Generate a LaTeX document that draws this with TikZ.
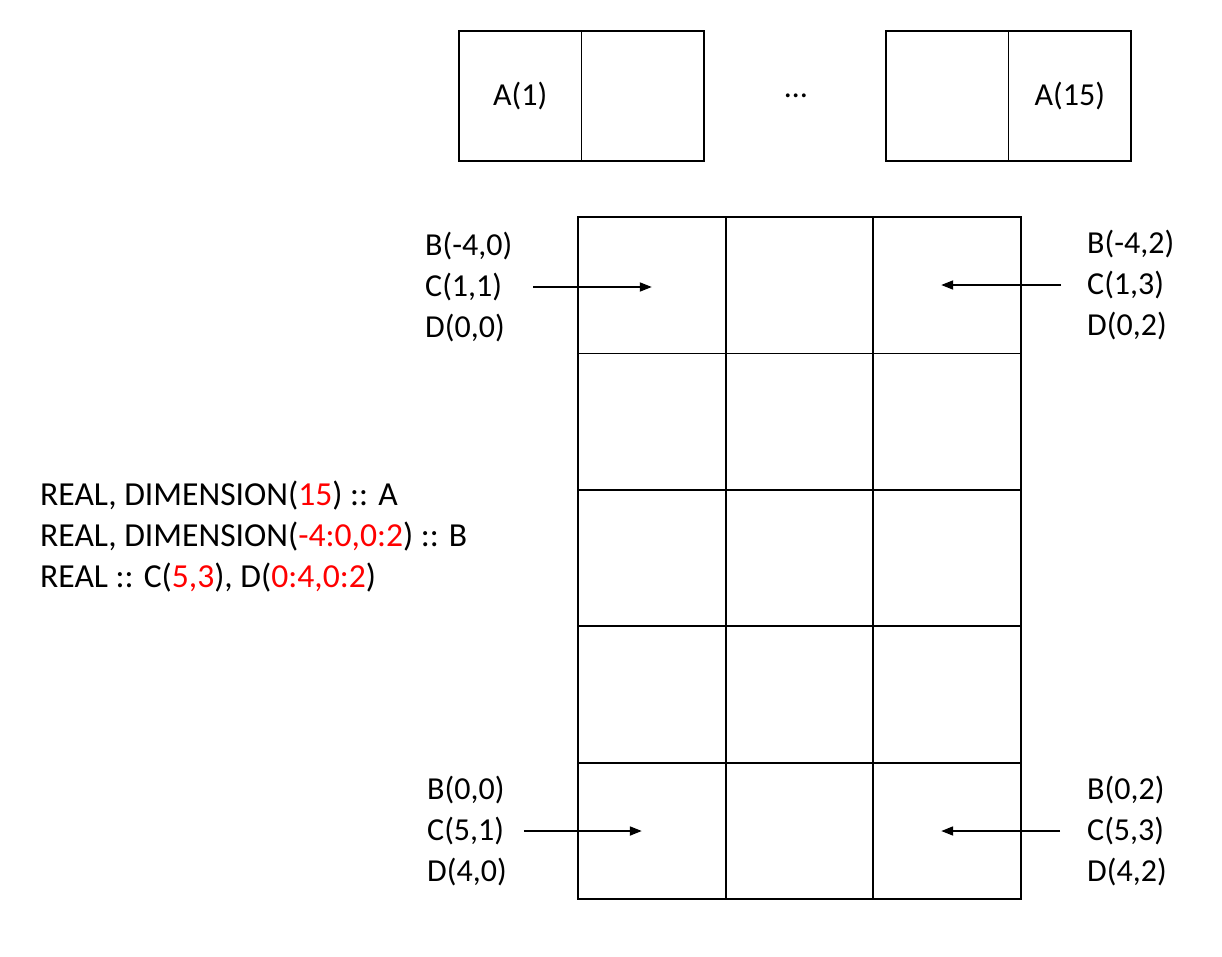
\documentclass[tikz,border=0pt]{standalone}
\usepackage{fontspec}
\setmainfont{Carlito}
\usetikzlibrary{arrows.meta, positioning}
\tikzset{
  slot/.style={rectangle,draw,line width=1.8pt,outer sep=0pt,inner sep=0pt,minimum width=122.5pt,minimum height=130pt},
  cell/.style={rectangle,draw,line width=1.8pt,outer sep=0pt,inner sep=0pt,minimum width=147.7pt,minimum height=136.4pt},
  note/.style={align=left,inner sep=0pt,anchor=west},
  line/.style={-{Triangle[length=12pt,width=9pt]},line width=1.8pt}
}

\begin{document}
\begin{tikzpicture}[x=1pt,y=-1pt,font=\fontsize{32}{41}\selectfont]
\useasboundingbox (0,0) rectangle (1222,956);
% array A
\node[slot] (a1) at (520.25,96) {A(1)};
\node[slot, right=0pt of a1] (a2) {};
\node (dots) at (796,96) {…};
\node[slot] (a14) at (947.25,96) {};
\node[slot, right=0pt of a14] (a15) {A(15)};
% arrays B, C, D share one grid
\foreach \r in {0,...,4}
  \foreach \c in {0,...,2}
    \node[cell] (b-\r-\c) at ({651.8+\c*147.7},{285.2+\r*136.4}) {};
\node[note] (tl) at (425,287) {B(-4,0)\\C(1,1)\\D(0,0)};
\node[note] (tr) at (1087,285) {B(-4,2)\\C(1,3)\\D(0,2)};
\node[note] (bl) at (427,831) {B(0,0)\\C(5,1)\\D(4,0)};
\node[note] (br) at (1087,831) {B(0,2)\\C(5,3)\\D(4,2)};
\draw[line] ([xshift=21pt]tl.east) -- (tl.east -| b-0-0.center);
\draw[line] ([xshift=-26pt]tr.west) -- ([xshift=-6pt]tr.west -| b-0-2.center);
\draw[line] ([xshift=17pt]bl.east) -- ([xshift=-10pt]bl.east -| b-4-0.center);
\draw[line] ([xshift=-27pt]br.west) -- ([xshift=-6pt]br.west -| b-4-2.center);
% declarations
\node[note, font=\fontsize{33.6}{41}\selectfont] (decl) at (40,537) {REAL, DIMENSION(\textcolor{red}{15}) :: A\\
  REAL, DIMENSION(\textcolor{red}{-4:0,0:2}) :: B\\
  REAL :: C(\textcolor{red}{5,3}), D(\textcolor{red}{0:4,0:2})};
\end{tikzpicture}
\end{document}
